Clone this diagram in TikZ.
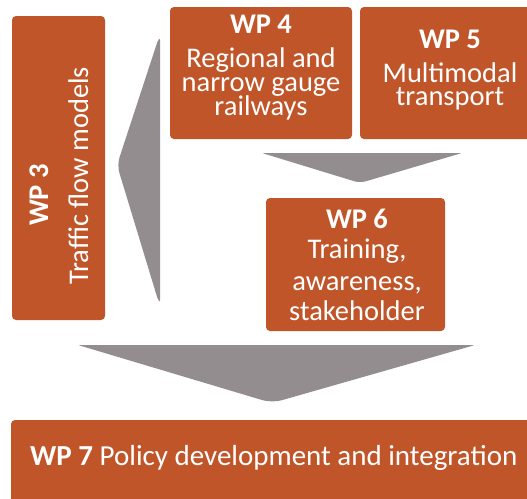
\documentclass[tikz,border=0pt]{standalone}
\usepackage{fontspec}
\setmainfont{Carlito}
\definecolor{wporange}{HTML}{C1552A}
\definecolor{wpgray}{HTML}{938D8F}
\begin{document}
\begin{tikzpicture}[x=1pt,y=-1pt,
  box/.style={fill=wporange, draw=none, rounded corners=4pt, inner sep=0pt},
  lbl/.style={text=white, inner sep=0pt, anchor=base, font=\fontsize{28.5}{30}\selectfont},
  hd/.style={lbl, font=\fontsize{28.5}{30}\selectfont\bfseries},
  chev/.style={fill=wpgray, draw=none}]
\useasboundingbox (0,0) rectangle (527,498);
% boxes
\node[box, minimum width=93pt, minimum height=304pt] (wp3) at (58.5,168) {};
\node[box, minimum width=182pt, minimum height=132pt] (wp4) at (261,73) {};
\node[box, minimum width=176pt, minimum height=132pt] (wp5) at (448,73) {};
\node[box, minimum width=179pt, minimum height=133pt] (wp6) at (355.5,264.5) {};
\node[box, minimum width=530pt, minimum height=90pt] (wp7) at (276,465) {};
% WP3
\node[hd, rotate=90] (wp3a) at (48,195) {WP 3};
\node[lbl, rotate=90] (wp3b) at (88,176) {Traffic flow models};
% WP4
\node[hd] (wp4a) at (261,33) {WP 4};
\node[lbl] (wp4b) at (261,67) {Regional and};
\node[lbl] (wp4c) at (261,91) {narrow gauge};
\node[lbl] (wp4d) at (261,115) {railways};
% WP5
\node[hd] (wp5a) at (450,48) {WP 5};
\node[lbl] (wp5b) at (450,82) {Multimodal};
\node[lbl] (wp5c) at (450,105) {transport};
% WP6
\node[hd] (wp6a) at (357,228) {WP 6};
\node[lbl] (wp6b) at (357,258) {Training,};
\node[lbl] (wp6c) at (357,290) {awareness,};
\node[lbl] (wp6d) at (357,320) {stakeholder};
% WP7
\node[lbl, anchor=base west, font=\fontsize{29}{30}\selectfont] (wp7t) at (30,465)
  {\textbf{WP 7} Policy development and integration};
% chevrons
\fill[chev] (160,38) [rounded corners=2pt]-- (158,40) [rounded corners=8pt]-- (117,165) [rounded corners=2pt]-- (158,300) -- (160,302) -- cycle;
\fill[chev] (262,153) [rounded corners=2pt]-- (462,153) [rounded corners=6pt]-- (360,183) [rounded corners=2pt]-- cycle;
\fill[chev] (78,345) [rounded corners=2pt]-- (475,345) [rounded corners=10pt]-- (272,403) [rounded corners=2pt]-- cycle;
\end{tikzpicture}
\end{document}
